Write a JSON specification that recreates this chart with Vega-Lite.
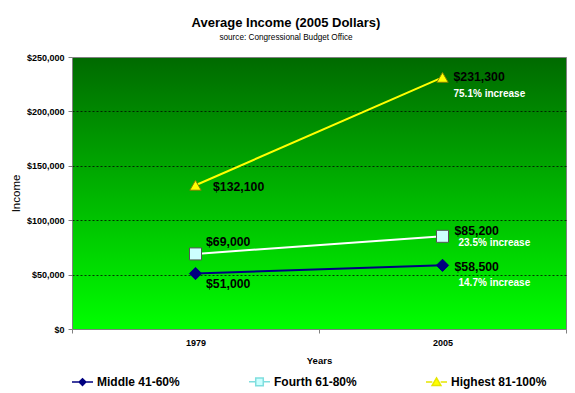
{
  "$schema": "https://vega.github.io/schema/vega-lite/v6.json",
  "width": 494,
  "height": 272,
  "autosize": {"type": "none"},
  "padding": {"left": 72, "top": 57, "right": 9, "bottom": 64},
  "background": "white",
  "title": {
    "text": "Average Income (2005 Dollars)",
    "subtitle": "source: Congressional Budget Office",
    "font": "Liberation Sans",
    "fontSize": 13,
    "fontWeight": "bold",
    "color": "black",
    "subtitleFont": "Liberation Sans",
    "subtitleFontSize": 8.2,
    "subtitleColor": "black",
    "subtitlePadding": 4,
    "anchor": "middle",
    "dx": -33,
    "offset": 12
  },
  "config": {
    "font": "Liberation Sans",
    "view": {
      "stroke": "#808080",
      "strokeWidth": 1,
      "fill": {
        "gradient": "linear",
        "x1": 0, "y1": 0, "x2": 0, "y2": 1,
        "stops": [
          {"offset": 0, "color": "#006a00"},
          {"offset": 1, "color": "#00ff00"}
        ]
      }
    }
  },
  "datasets": {
    "income": [
      {"series": "Middle 41-60%", "year": "1979", "income": 51000, "increase": ""},
      {"series": "Middle 41-60%", "year": "2005", "income": 58500, "increase": "14.7% increase"},
      {"series": "Fourth 61-80%", "year": "1979", "income": 69000, "increase": ""},
      {"series": "Fourth 61-80%", "year": "2005", "income": 85200, "increase": "23.5% increase"},
      {"series": "Highest 81-100%", "year": "1979", "income": 132100, "increase": ""},
      {"series": "Highest 81-100%", "year": "2005", "income": 231300, "increase": "75.1% increase"}
    ]
  },
  "data": {"name": "income"},
  "encoding": {
    "x": {
      "field": "year",
      "type": "ordinal",
      "bandPosition": 0.5,
      "scale": {"type": "band", "paddingInner": 0, "paddingOuter": 0},
      "axis": {
        "title": "Years",
        "titleFont": "Liberation Sans",
        "titleFontSize": 9.5,
        "titleFontWeight": "bold",
        "titleColor": "black",
        "titlePadding": 8,
        "labelAngle": 0,
        "labelFont": "Liberation Sans",
        "labelFontSize": 9,
        "labelFontWeight": "bold",
        "labelColor": "black",
        "labelPadding": 5,
        "tickBand": "extent",
        "tickSize": 4,
        "tickColor": "#808080",
        "domain": false,
        "grid": false
      }
    },
    "y": {
      "field": "income",
      "type": "quantitative",
      "scale": {"domain": [0, 250000], "nice": false},
      "axis": {
        "title": "Income",
        "titleFont": "Liberation Sans",
        "titleFontSize": 11.5,
        "titleFontWeight": "normal",
        "titleColor": "black",
        "titlePadding": 5,
        "values": [0, 50000, 100000, 150000, 200000, 250000],
        "format": "$,.0f",
        "labelFont": "Liberation Sans",
        "labelFontSize": 9,
        "labelFontWeight": "bold",
        "labelColor": "black",
        "labelPadding": 4,
        "tickSize": 4,
        "tickColor": "#808080",
        "domain": false,
        "grid": true,
        "gridColor": {"condition": {"test": "datum.value == 0 || datum.value == 250000", "value": "transparent"}, "value": "#000000"},
        "gridDash": [2, 2],
        "gridOpacity": 0.75
      }
    }
  },
  "layer": [
    {
      "transform": [{"filter": "datum.series == 'Highest 81-100%'"}],
      "mark": {"type": "line", "color": "#ffff00", "strokeWidth": 2}
    },
    {
      "transform": [{"filter": "datum.series == 'Fourth 61-80%'"}],
      "mark": {"type": "line", "color": "#ffffff", "strokeWidth": 2}
    },
    {
      "transform": [{"filter": "datum.series == 'Middle 41-60%'"}],
      "mark": {"type": "line", "color": "#000080", "strokeWidth": 2}
    },
    {
      "transform": [{"filter": "datum.series == 'Highest 81-100%'"}],
      "mark": {"type": "point", "shape": "triangle-up", "size": 130, "filled": true, "fill": "#ffff00", "stroke": "#808000", "strokeWidth": 1, "opacity": 1}
    },
    {
      "transform": [{"filter": "datum.series == 'Fourth 61-80%'"}],
      "mark": {"type": "point", "shape": "square", "size": 144, "filled": true, "fill": "#ccffff", "stroke": "#555555", "strokeWidth": 1, "opacity": 1}
    },
    {
      "transform": [{"filter": "datum.series == 'Middle 41-60%'"}],
      "mark": {"type": "point", "shape": "diamond", "size": 150, "filled": true, "fill": "#000080", "stroke": "#000080", "strokeWidth": 1, "opacity": 1}
    },
    {
      "transform": [{"filter": "datum.series == 'Highest 81-100%' && datum.year == '1979'"}],
      "mark": {"type": "text", "align": "left", "baseline": "middle", "dx": 17.5, "dy": 1.5, "fontSize": 12.3, "fontWeight": "bold", "color": "black"},
      "encoding": {"text": {"field": "income", "type": "quantitative", "format": "$,.0f"}}
    },
    {
      "transform": [{"filter": "datum.series == 'Fourth 61-80%' && datum.year == '1979'"}],
      "mark": {"type": "text", "align": "left", "baseline": "middle", "dx": 10.5, "dy": -12, "fontSize": 12.3, "fontWeight": "bold", "color": "black"},
      "encoding": {"text": {"field": "income", "type": "quantitative", "format": "$,.0f"}}
    },
    {
      "transform": [{"filter": "datum.series == 'Middle 41-60%' && datum.year == '1979'"}],
      "mark": {"type": "text", "align": "left", "baseline": "middle", "dx": 10.5, "dy": 10, "fontSize": 12.3, "fontWeight": "bold", "color": "black"},
      "encoding": {"text": {"field": "income", "type": "quantitative", "format": "$,.0f"}}
    },
    {
      "transform": [{"filter": "datum.series == 'Highest 81-100%' && datum.year == '2005'"}],
      "mark": {"type": "text", "align": "left", "baseline": "middle", "dx": 11, "dy": -0.5, "fontSize": 12.3, "fontWeight": "bold", "color": "black"},
      "encoding": {"text": {"field": "income", "type": "quantitative", "format": "$,.0f"}}
    },
    {
      "transform": [{"filter": "datum.series == 'Fourth 61-80%' && datum.year == '2005'"}],
      "mark": {"type": "text", "align": "left", "baseline": "middle", "dx": 12, "dy": -5.5, "fontSize": 12.3, "fontWeight": "bold", "color": "black"},
      "encoding": {"text": {"field": "income", "type": "quantitative", "format": "$,.0f"}}
    },
    {
      "transform": [{"filter": "datum.series == 'Middle 41-60%' && datum.year == '2005'"}],
      "mark": {"type": "text", "align": "left", "baseline": "middle", "dx": 12, "dy": 1.3, "fontSize": 12.3, "fontWeight": "bold", "color": "black"},
      "encoding": {"text": {"field": "income", "type": "quantitative", "format": "$,.0f"}}
    },
    {
      "transform": [{"filter": "datum.series == 'Highest 81-100%' && datum.year == '2005'"}],
      "mark": {"type": "text", "align": "left", "baseline": "middle", "dx": 11, "dy": 17, "fontSize": 10, "fontWeight": "bold", "color": "white"},
      "encoding": {"text": {"field": "increase", "type": "nominal"}}
    },
    {
      "transform": [{"filter": "datum.series == 'Fourth 61-80%' && datum.year == '2005'"}],
      "mark": {"type": "text", "align": "left", "baseline": "middle", "dx": 16, "dy": 6.4, "fontSize": 10, "fontWeight": "bold", "color": "white"},
      "encoding": {"text": {"field": "increase", "type": "nominal"}}
    },
    {
      "transform": [{"filter": "datum.series == 'Middle 41-60%' && datum.year == '2005'"}],
      "mark": {"type": "text", "align": "left", "baseline": "middle", "dx": 16, "dy": 17.3, "fontSize": 10, "fontWeight": "bold", "color": "white"},
      "encoding": {"text": {"field": "increase", "type": "nominal"}}
    },
    {
      "transform": [{"filter": "datum.income < 0"}],
      "mark": {"type": "point", "filled": true, "strokeWidth": 2, "opacity": 1},
      "encoding": {
        "shape": {
          "field": "series",
          "type": "nominal",
          "scale": {
            "domain": ["Middle 41-60%", "Fourth 61-80%", "Highest 81-100%"],
            "range": [
              "M-1,0H1M0,-0.32L0.32,0L0,0.32L-0.32,0Z",
              "M-1,0H-0.36M0.36,0H1M-0.36,-0.36H0.36V0.36H-0.36Z",
              "M-1,0H-0.4M0.4,0H1M0,-0.4L0.42,0.32L-0.42,0.32Z"
            ]
          },
          "legend": {
            "orient": "none",
            "legendX": -1,
            "legendY": 313,
            "direction": "horizontal",
            "title": null,
            "symbolSize": 441,
            "symbolStrokeWidth": 1.5,
            "symbolOpacity": 1,
            "labelFont": "Liberation Sans",
            "labelFontSize": 12,
            "labelFontWeight": "bold",
            "labelColor": "black",
            "labelOffset": 3,
            "columnPadding": 66
          }
        },
        "fill": {
          "field": "series",
          "type": "nominal",
          "scale": {
            "domain": ["Middle 41-60%", "Fourth 61-80%", "Highest 81-100%"],
            "range": ["#000080", "#ccffff", "#ffff00"]
          }
        },
        "stroke": {
          "field": "series",
          "type": "nominal",
          "scale": {
            "domain": ["Middle 41-60%", "Fourth 61-80%", "Highest 81-100%"],
            "range": ["#000080", "#7fdede", "#e6e600"]
          }
        }
      }
    }
  ]
}
